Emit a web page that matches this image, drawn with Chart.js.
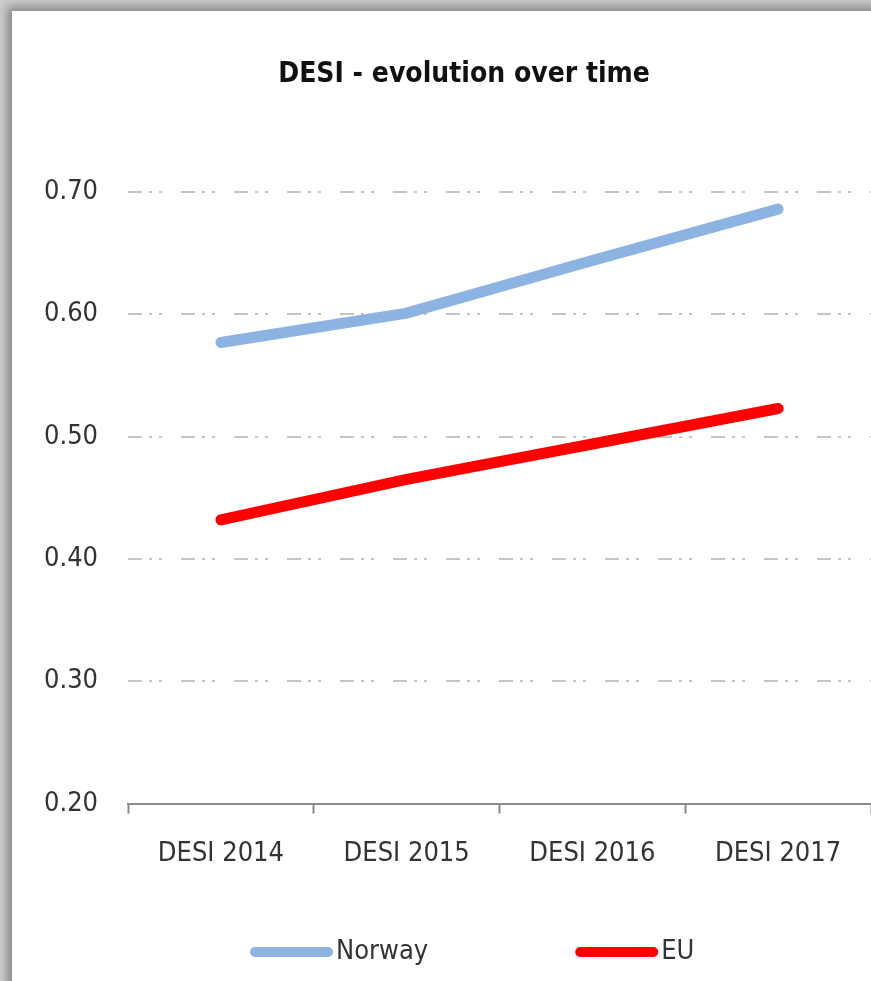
<!DOCTYPE html>
<html>
<head>
<meta charset="utf-8">
<script src="https://cdn.jsdelivr.net/npm/chart.js@4"></script>
<style>
  html, body { margin: 0; padding: 0; width: 871px; height: 981px; overflow: hidden; background: #cfcfcf; }
  #card { position: absolute; left: 12px; top: 11px; width: 910px; height: 990px; background: #fff;
          box-shadow: 0 0 10px 5px rgba(0,0,0,0.35); }
  #chart { position: absolute; left: 0; top: 0; }
</style>
</head>
<body>
<div id="card"><canvas id="chart" width="904" height="970" style="width:904px;height:970px"></canvas></div>
<script>
// ========== Data ==========
const categories = ['DESI 2014', 'DESI 2015', 'DESI 2016', 'DESI 2017'];
const norwayValues = [0.577, 0.601, 0.644, 0.686];
const euValues = [0.432, 0.465, 0.494, 0.523];
const yTicks = [0.20, 0.30, 0.40, 0.50, 0.60, 0.70];
const chartTitle = 'DESI - evolution over time';

const FONT = '"DejaVu Sans Condensed", "Liberation Sans Narrow", "Liberation Sans", sans-serif';

// title above the plot and legend (line swatch + label) under the axis
const titleAndLegend = {
    id: 'titleAndLegend',
    afterDraw(chart) {
        const ctx = chart.ctx;
        const area = chart.chartArea;
        ctx.save();
        ctx.font = 'bold 28px ' + FONT;
        ctx.fillStyle = '#111';
        ctx.textAlign = 'center';
        ctx.textBaseline = 'middle';
        ctx.fillText(chartTitle, area.left + 336, 64);

        const y = 941;
        let x = area.left + 122;
        ctx.font = '27px ' + FONT;
        ctx.textAlign = 'left';
        ctx.fillStyle = '#333';
        chart.data.datasets.forEach(ds => {
            ctx.beginPath();
            ctx.lineCap = 'round';
            ctx.lineWidth = 10;
            ctx.strokeStyle = ds.borderColor;
            ctx.moveTo(x + 5, y);
            ctx.lineTo(x + 78, y);
            ctx.stroke();
            x += 86;
            ctx.fillText(ds.label, x, y);
            x += ctx.measureText(ds.label).width + 147;
        });
        ctx.restore();
    }
};

const ctx = document.getElementById('chart').getContext('2d');
new Chart(ctx, {
    type: 'line',
    data: {
        labels: categories,
        datasets: [
            { label: 'Norway', data: norwayValues, borderColor: '#8db3e2', backgroundColor: '#8db3e2',
              borderWidth: 11, borderCapStyle: 'round', pointRadius: 0, tension: 0 },
            { label: 'EU', data: euValues, borderColor: '#ff0000', backgroundColor: '#ff0000',
              borderWidth: 11, borderCapStyle: 'round', pointRadius: 0, tension: 0 }
        ]
    },
    options: {
        responsive: false,
        animation: false,
        layout: { padding: { left: 2, right: 45, top: 181, bottom: 87 } },
        plugins: {
            legend: { display: false },
            tooltip: { enabled: false },
            title: { display: false }
        },
        scales: {
            x: {
                offset: true,
                grid: { display: true, offset: true, drawOnChartArea: false, drawTicks: true,
                        tickLength: 10, tickColor: '#8a8a8a', tickWidth: 2 },
                border: { display: true, color: '#8a8a8a', width: 2 },
                ticks: { color: '#333', padding: 24, font: { family: FONT, size: 27 } }
            },
            y: {
                min: 0.2,
                max: 0.7,
                afterBuildTicks: axis => { axis.ticks = yTicks.map(v => ({ value: v })); },
                grid: {
                    drawTicks: false,
                    lineWidth: 2,
                    color: c => Math.abs(c.tick.value - 0.2) < 1e-6 ? 'rgba(0,0,0,0)' : '#c4c4c4'
                },
                border: { display: false, dash: [14, 7, 3, 7, 3, 19] },
                ticks: {
                    color: '#333',
                    padding: 30,
                    font: { family: FONT, size: 27 },
                    callback: v => Number(v).toFixed(2)
                }
            }
        }
    },
    plugins: [titleAndLegend]
});
</script>
</body>
</html>
